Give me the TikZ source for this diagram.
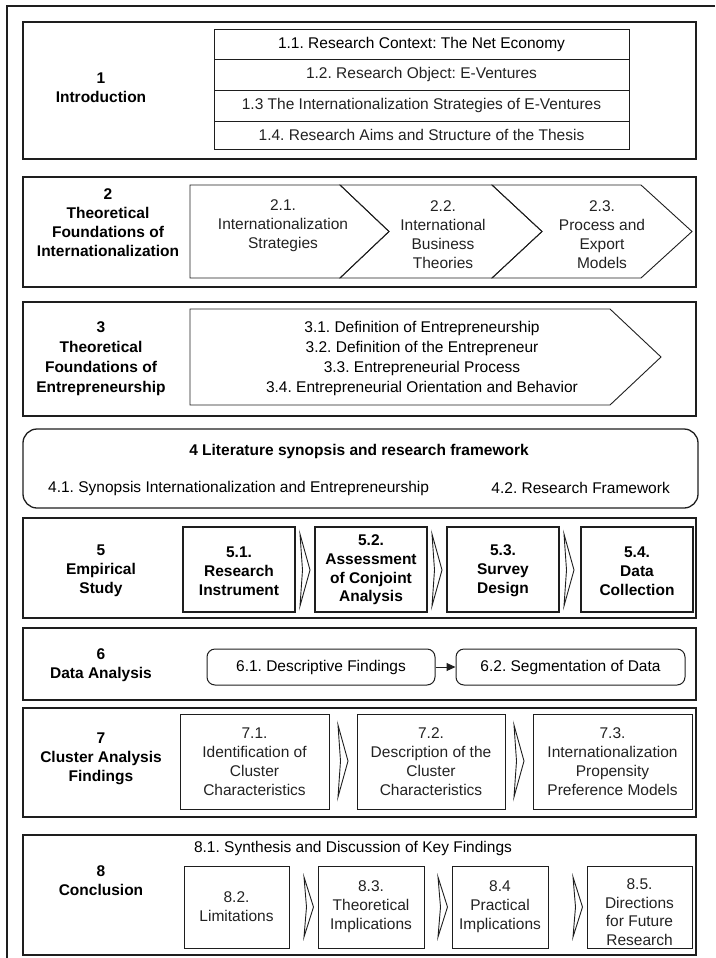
\documentclass[tikz,border=0pt]{standalone}
\usepackage{fontspec}
\setmainfont{Liberation Sans}
\usetikzlibrary{arrows.meta}
\frenchspacing
\definecolor{ink}{HTML}{1E1E1E}
\definecolor{txtc}{HTML}{222222}
\newcommand{\fsz}{\fontsize{15.5}{19}\selectfont}
\tikzset{
  frameline/.style={draw=ink, line width=1.3pt},
  sect/.style={draw=ink, line width=1.3pt, rectangle, minimum width=673pt, inner sep=0pt},
  cell/.style={draw=ink, line width=0.9pt, rectangle, inner sep=0pt},
  boldcell/.style={draw=ink, line width=1.4pt, rectangle, inner sep=0pt, minimum width=112pt, minimum height=85pt},
  thincell/.style={draw=ink, line width=1pt, rectangle, inner sep=0pt},
  roundcell/.style={draw=ink, line width=1pt, rectangle, rounded corners=8pt, inner sep=0pt, minimum height=36pt},
  chev/.style={draw=ink, line width=0.9pt, line join=miter},
  lbl/.style={font=\fsz\bfseries, align=center, inner sep=0pt, text=black},
  txt/.style={font=\fsz, align=center, inner sep=0pt, text=txtc},
  btxt/.style={font=\fsz\bfseries, align=center, inner sep=0pt, text=black},
  flow/.style={draw=ink, line width=1pt, -{Triangle[length=9pt,width=8pt]}}
}
\begin{document}
\begin{tikzpicture}[x=1pt,y=-1pt]
\useasboundingbox (0,0) rectangle (715,958);

% outer frame (runs off the page on the right and at the bottom)
\coordinate (fbl) at (7,958);
\coordinate (ftl) at (7,6);
\coordinate (ftr) at (715,6);
\draw[frameline] (fbl) -- (ftl) -- (ftr);

% ---------- 1 Introduction ----------
\node[sect, minimum height=137pt] (s1) at (359.5,90.5) {};
\node[lbl] (l1) at (101,87.5) {1\\Introduction};
\node[cell, minimum width=415pt, minimum height=30pt] (t1) at (421.5,44) {};
\node[cell, minimum width=415pt, minimum height=31pt] (t2) at (421.5,74.5) {};
\node[cell, minimum width=415pt, minimum height=31pt] (t3) at (421.5,105.5) {};
\node[cell, minimum width=415pt, minimum height=28pt] (t4) at (421.5,135) {};
\node[txt, text=black] at (t1) {1.1. Research Context: The Net Economy};
\node[txt] at (t2) {1.2. Research Object: E-Ventures};
\node[txt] at (t3) {1.3 The Internationalization Strategies of E-Ventures};
\node[txt] at (t4) {1.4. Research Aims and Structure of the Thesis};

% ---------- 2 Foundations of internationalization ----------
\node[sect, minimum height=110pt] (s2) at (359.5,232) {};
\node[lbl] (l2) at (108,222.5) {2\\Theoretical\\Foundations of\\Internationalization};
\draw[chev] (190,185) -- (340,185) -- (389,231.5) -- (340,278) -- (190,278) -- cycle;
\draw[chev] (340,185) -- (492,185) -- (542,231.5) -- (492,278) -- (340,278) -- (389,231.5) -- cycle;
\draw[chev] (492,185) -- (641,185) -- (692,231.5) -- (641,278) -- (492,278) -- (542,231.5) -- cycle;
\node[txt] (c21) at (283,225.5) {2.1.\\Internationalization\\Strategies};
\node[txt] (c22) at (443,234.5) {2.2.\\International\\Business\\Theories};
\node[txt] (c23) at (602,234.5) {2.3.\\Process and\\Export\\Models};

% ---------- 3 Foundations of entrepreneurship ----------
\node[sect, minimum height=114pt] (s3) at (359.5,359) {};
\node[lbl, font=\fontsize{15.5}{20}\selectfont\bfseries] (l3) at (101,359) {3\\Theoretical\\Foundations of\\Entrepreneurship};
\draw[chev] (190,309) -- (610,309) -- (661,357) -- (610,405) -- (190,405) -- cycle;
\node[txt, text=black, font=\fontsize{15.5}{20.3}\selectfont] (c3) at (422,358.5)
  {3.1. Definition of Entrepreneurship\\3.2. Definition of the Entrepreneur\\3.3. Entrepreneurial Process\\3.4. Entrepreneurial Orientation and Behavior};

% ---------- 4 Literature synopsis ----------
\node[sect, minimum height=79pt, minimum width=675pt, rounded corners=14pt] (s4) at (360.5,468.5) {};
\node[lbl] (h4) at (359,451) {4 Literature synopsis and research framework};
\node[txt, text=black, anchor=west] (p41) at (48,488) {4.1. Synopsis Internationalization and Entrepreneurship};
\node[txt, text=black, anchor=east] (p42) at (670,488) {4.2. Research Framework};

% ---------- 5 Empirical study ----------
\node[sect, minimum height=100pt] (s5) at (359.5,568) {};
\node[lbl] (l5) at (101,571) {5\\Empirical\\Study};
\node[boldcell] (b51) at (239,569.5) {};
\node[boldcell] (b52) at (371,569.5) {};
\node[boldcell] (b53) at (503,569.5) {};
\node[boldcell] (b54) at (637,569.5) {};
\node[btxt] at (239,571) {5.1.\\Research\\Instrument};
\node[btxt, font=\fontsize{15.5}{18.7}\selectfont\bfseries] at (371,570) {5.2.\\Assessment\\of Conjoint\\Analysis};
\node[btxt] at (503,571) {5.3.\\Survey\\Design};
\node[btxt] at (637,571) {5.4.\\Data\\Collection};
\foreach \ax in {300,432,564}{
  \draw[chev] (\ax,534) -- (\ax+10,570) -- (\ax,606) -- (\ax+2.5,570) -- cycle;
}

% ---------- 6 Data analysis ----------
\node[sect, minimum height=72pt] (s6) at (359.5,664) {};
\node[lbl] (l6) at (101,665) {6\\Data Analysis};
\node[roundcell, minimum width=228pt] (d61) at (321,667) {};
\node[roundcell, minimum width=229pt] (d62) at (570.5,667) {};
\node[txt, text=black] at (d61) {6.1. Descriptive Findings};
\node[txt, text=black] at (d62) {6.2. Segmentation of Data};
\draw[flow] (d61.east) -- (d62.west);

% ---------- 7 Cluster analysis ----------
\node[sect, minimum height=109pt] (s7) at (359.5,762.5) {};
\node[lbl] (l7) at (101,758.5) {7\\Cluster Analysis\\Findings};
\node[thincell, minimum width=149pt, minimum height=95pt] (b71) at (254.5,761.5) {};
\node[thincell, minimum width=148pt, minimum height=95pt] (b72) at (431,761.5) {};
\node[thincell, minimum width=159pt, minimum height=95pt] (b73) at (612.5,761.5) {};
\node[txt] at (254.5,762) {7.1.\\Identification of\\Cluster\\Characteristics};
\node[txt] at (431,762) {7.2.\\Description of the\\Cluster\\Characteristics};
\node[txt] at (612.5,762) {7.3.\\Internationalization\\Propensity\\Preference Models};
\foreach \ax in {338,514}{
  \draw[chev] (\ax,725) -- (\ax+10,761) -- (\ax,797) -- (\ax+2.5,761) -- cycle;
}

% ---------- 8 Conclusion ----------
\node[sect, minimum height=120pt] (s8) at (359.5,895) {};
\node[lbl] (l8) at (101,880.5) {8\\Conclusion};
\node[txt, text=black] (h8) at (353,848) {8.1. Synthesis and Discussion of Key Findings};
\node[thincell, minimum width=105pt, minimum height=82pt] (b82) at (236.5,907) {};
\node[thincell, minimum width=106pt, minimum height=82pt] (b83) at (371,907) {};
\node[thincell, minimum width=96pt, minimum height=82pt] (b84) at (500,907) {};
\node[thincell, minimum width=105pt, minimum height=82pt] (b85) at (639.5,907) {};
\node[txt] at (236.5,907) {8.2.\\Limitations};
\node[txt] at (371,907) {8.3.\\Theoretical\\Implications};
\node[txt] at (500,907) {8.4\\Practical\\Implications};
\node[txt, font=\fontsize{15.5}{18.5}\selectfont] at (639.5,912) {8.5.\\Directions\\for Future\\Research};
\foreach \ax in {304,438,573}{
  \draw[chev] (\ax,877) -- (\ax+9.5,907) -- (\ax,937) -- (\ax+2.5,907) -- cycle;
}
\end{tikzpicture}
\end{document}
